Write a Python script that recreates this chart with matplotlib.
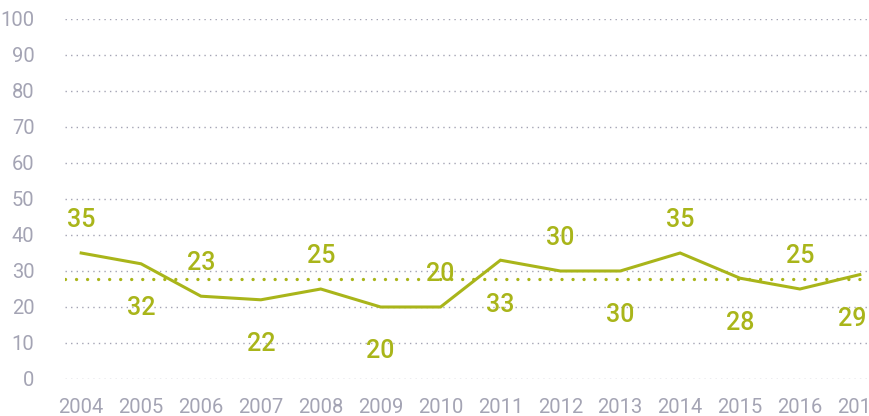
import matplotlib
matplotlib.use("Agg")
import matplotlib.pyplot as plt
import numpy as np

years = ["2004", "2005", "2006", "2007", "2008", "2009", "2010",
         "2011", "2012", "2013", "2014", "2015", "2016", "2017"]
values = [35, 32, 23, 22, 25, 20, 20, 33, 30, 30, 35, 28, 25, 29]
yticks = [0, 10, 20, 30, 40, 50, 60, 70, 80, 90, 100]

GREEN = "#a9b51a"
GRAY = "#a4a4b4"
FONT = ["Roboto", "DejaVu Sans"]

fig = plt.figure(figsize=(8.7, 4.16), dpi=100)
ax = fig.add_axes([65 / 870, 1 - 379 / 416, 805 / 870, 360 / 416])

x = np.arange(len(years))
ax.set_xlim(-0.27, len(years) - 1 + 0.17)
ax.set_ylim(0, 100)

for t in yticks:
    ax.axhline(t, color=GRAY, lw=1.0, linestyle=(0, (1, 3)), zorder=1)

mean = np.mean(values)
ax.axhline(mean, color=GREEN, lw=2.4, linestyle=(0, (0.01, 3.3)),
           dash_capstyle="round", zorder=2)

ax.plot(x, values, color=GREEN, lw=2.2, zorder=3, solid_joinstyle="miter")

last = len(values) - 1
for i, v in enumerate(values):
    off = 24 if i % 2 == 0 else -32
    if i == last:
        xy_off, ha = (5, off), "right"
    else:
        xy_off, ha = (0, off), "center"
    ax.annotate(str(v), (x[i], v), xytext=xy_off, textcoords="offset points",
                ha=ha, va="center", fontsize=18, color=GREEN,
                family=FONT, fontweight="medium", zorder=4)

ax.set_xticks(x)
ax.set_xticklabels(years)
ax.set_yticks(yticks)
ax.set_yticklabels([str(t) for t in yticks])
ax.tick_params(axis="both", length=0, colors=GRAY, labelsize=14.5)
ax.tick_params(axis="y", pad=22)
ax.tick_params(axis="x", pad=14)
for lab in ax.get_xticklabels() + ax.get_yticklabels():
    lab.set_family(FONT)
for s in ax.spines.values():
    s.set_visible(False)
ax.patch.set_alpha(0)

fig.savefig("out.png", dpi=100)
